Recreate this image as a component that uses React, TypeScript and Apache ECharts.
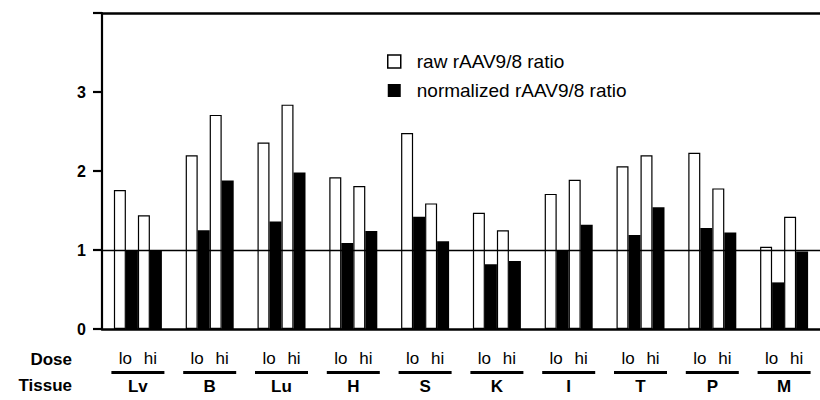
import React, { useEffect, useRef } from "react";
import * as echarts from "echarts";

const tissues = ["Lv", "B", "Lu", "H", "S", "K", "I", "T", "P", "M"];
const rawLo = [1.76, 2.2, 2.36, 1.92, 2.48, 1.47, 1.71, 2.06, 2.23, 1.04];
const normLo = [1.0, 1.25, 1.36, 1.09, 1.42, 0.82, 0.99, 1.19, 1.28, 0.59];
const rawHi = [1.44, 2.71, 2.84, 1.81, 1.59, 1.25, 1.89, 2.2, 1.78, 1.42];
const normHi = [1.0, 1.88, 1.98, 1.24, 1.11, 0.86, 1.32, 1.54, 1.22, 0.98];
const yTicks = [0, 1, 2, 3];
const rawName = "raw rAAV9/8 ratio";
const normName = "normalized rAAV9/8 ratio";

const FONT = "'Liberation Sans', Arial, Helvetica, sans-serif";

export default function App() {
  const ref = useRef<HTMLDivElement>(null);
  useEffect(() => {
    if (!ref.current) return;
    const chart = echarts.init(ref.current, null, { renderer: "svg" });
    const white = { color: "#fff", borderColor: "#000", borderWidth: 1.2 };
    const black = { color: "#000" };
    const barBase = { type: "bar" as const, barWidth: 12, barGap: "0%" };
    chart.setOption({
      animation: false,
      textStyle: { fontFamily: FONT },
      grid: { left: 102, right: -9, top: 13, bottom: 71 },
      legend: {
        orient: "vertical",
        left: 387,
        top: 52,
        padding: 0,
        itemWidth: 13,
        itemHeight: 13,
        itemGap: 10,
        selectedMode: false,
        textStyle: { fontSize: 19, color: "#000", fontFamily: FONT, lineHeight: 19, padding: [0, 0, 0, 11] },
        data: [
          { name: rawName, icon: "rect", itemStyle: { color: "#fff", borderColor: "#000", borderWidth: 1.5 } },
          { name: normName, icon: "rect", itemStyle: { color: "#000" } },
        ],
      },
      xAxis: [
        {
          type: "category",
          data: tissues,
          axisLine: { show: true, lineStyle: { color: "#000", width: 2.5 } },
          axisTick: { show: false },
          axisLabel: {
            margin: 20,
            interval: 0,
            formatter: (v: string) => `{a|lo}{a|hi}\n{u| }\n{t|${v}}`,
            rich: {
              a: { width: 25, align: "center", fontSize: 17, lineHeight: 19, color: "#000", fontFamily: FONT },
              u: { width: 53, height: 3, backgroundColor: "#000", lineHeight: 9, fontSize: 1 },
              t: { fontSize: 17, fontWeight: "bold", lineHeight: 19, color: "#000", fontFamily: FONT },
            },
          },
        },
        {
          type: "category",
          position: "top",
          data: tissues,
          axisLine: { show: true, lineStyle: { color: "#000", width: 2.5 } },
          axisTick: { show: false },
          axisLabel: { show: false },
        },
      ],
      yAxis: {
        type: "value",
        min: 0,
        max: 4,
        interval: 1,
        axisLine: { show: true, lineStyle: { color: "#000", width: 2.2 } },
        axisTick: { show: true, length: 9, lineStyle: { color: "#000", width: 2.2 } },
        splitLine: { show: false },
        axisLabel: {
          margin: 16,
          fontSize: 16,
          fontWeight: "bold",
          color: "#000",
          fontFamily: FONT,
          formatter: (v: number) => (yTicks.includes(v) ? String(v) : ""),
        },
      },
      graphic: [
        { type: "text", right: 820 - 72, top: 351, style: { text: "Dose", font: `bold 17px ${FONT}`, fill: "#000" } },
        { type: "text", right: 820 - 72, top: 377, style: { text: "Tissue", font: `bold 17px ${FONT}`, fill: "#000" } },
      ],
      series: [
        { ...barBase, name: rawName, data: rawLo, itemStyle: white },
        { ...barBase, name: normName, data: normLo, itemStyle: black },
        { ...barBase, name: rawName, data: rawHi, itemStyle: white },
        {
          ...barBase,
          name: normName,
          data: normHi,
          itemStyle: black,
          markLine: {
            silent: true,
            symbol: "none",
            label: { show: false },
            lineStyle: { color: "#000", width: 1.3, type: "solid" },
            data: [{ yAxis: 1 }],
          },
        },
      ],
    });
    return () => chart.dispose();
  }, []);
  return <div ref={ref} style={{ position: "absolute", left: 0, top: 0, width: 820, height: 400 }} />;
}
